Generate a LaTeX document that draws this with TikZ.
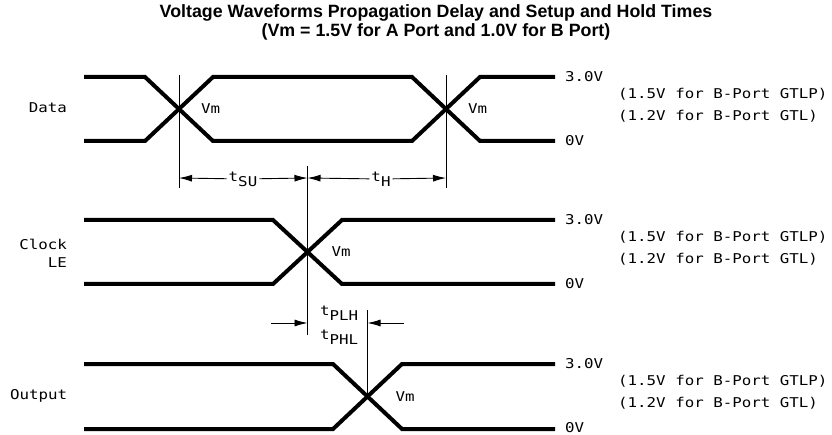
\documentclass[tikz,border=0pt]{standalone}
\usepackage{fontspec}
\setmainfont{Liberation Sans}
\newfontfamily\plotfont[FakeStretch=1.17]{DejaVu Sans Mono}
\usetikzlibrary{arrows.meta,positioning}

\begin{document}
\begin{tikzpicture}[x=1pt,y=-1pt,
  every node/.style={inner sep=0pt},
  wave/.style={line width=4pt},
  guide/.style={line width=0.9pt},
  dim/.style={line width=0.9pt,-{Latex[length=13pt,width=7pt]}},
  lbl/.style={font=\plotfont\fontsize{13.5}{16}\selectfont},
  head/.style={font=\bfseries\fontsize{17.8}{20}\selectfont}]
\useasboundingbox (0,0) rectangle (832,435);

% title
\node[head] (T1) at (436,13) {Voltage Waveforms Propagation Delay and Setup and Hold Times};
\node[head] (T2) at (436,32) {(Vm = 1.5V for A Port and 1.0V for B Port)};

% Data
\draw[wave] (84,77) -- (145,77) -- (213,141) -- (412,141) -- (480,77) -- (555,77);
\draw[wave] (84,141) -- (145,141) -- (213,77) -- (412,77) -- (480,141) -- (555,141);
\coordinate (dx1) at (179,109);
\coordinate (dx2) at (446,109);
\node[lbl,anchor=east] (data) at (67,108) {Data};

% Clock LE
\draw[wave] (84,220) -- (273,220) -- (342,284) -- (555,284);
\draw[wave] (84,284) -- (273,284) -- (342,220) -- (555,220);
\coordinate (cx) at (307.5,252);
\node[lbl,anchor=east] (clk) at (67,244) {Clock};
\node[lbl,anchor=east] (le) at (67,263) {LE};

% Output
\draw[wave] (84,364) -- (333,364) -- (402,429) -- (555,429);
\draw[wave] (84,429) -- (333,429) -- (402,364) -- (555,364);
\coordinate (ox) at (367.5,397);
\node[lbl,anchor=west] (out) at (10,396) {Output};

% Vm labels
\node[lbl,anchor=west] (vm1) at ([xshift=22pt]dx1) {Vm};
\node[lbl,anchor=west] (vm2) at ([xshift=22pt]dx2) {Vm};
\node[lbl,anchor=west] (vm3) at ([xshift=24pt]cx) {Vm};
\node[lbl,anchor=west] (vm4) at ([xshift=28pt]ox) {Vm};

% levels
\foreach \y/\n in {77/a,220/b,364/c} {
  \node[lbl,anchor=west] (hi\n) at (565,\y) {3.0V};
  \node[lbl,anchor=west] (lo\n) at (565,\y+64) {0V};
  \node[lbl,anchor=west] (gtlp\n) at (618,\y+17) {(1.5V for B-Port GTLP)};
  \node[lbl,anchor=west] (gtl\n) at (618,\y+39) {(1.2V for B-Port GTL)};
}

% setup and hold
\coordinate (s1) at (179,188);
\coordinate (s2) at (446,188);
\coordinate (s3) at (307.5,178);
\draw[guide] (179,75) -- (s1);
\draw[guide] (446,75) -- (s2);
\draw[guide] (307.5,166) -- (307.5,335);
\node[lbl,fill=white,inner xsep=2pt] (tsu) at (243,179) {t\raisebox{-5pt}{SU}};
\node[lbl,fill=white,inner xsep=2pt] (th) at (381,179) {t\raisebox{-5pt}{H}};
\draw[dim] (tsu) -- (179,178);
\draw[dim] (tsu) -- (s3);
\draw[dim] (th) -- (s3);
\draw[dim] (th) -- (446,178);

% propagation delay
\draw[guide] (367.5,310) -- (ox);
\coordinate (p1) at (271,323);
\coordinate (p2) at (404,323);
\draw[dim] (p1) -- (307.5,323);
\draw[dim] (p2) -- (367.5,323);
\node[lbl,anchor=west] (tplh) at (320,313) {t\raisebox{-5pt}{PLH}};
\node[lbl,anchor=west] (tphl) at (320,337) {t\raisebox{-5pt}{PHL}};
\end{tikzpicture}
\end{document}
